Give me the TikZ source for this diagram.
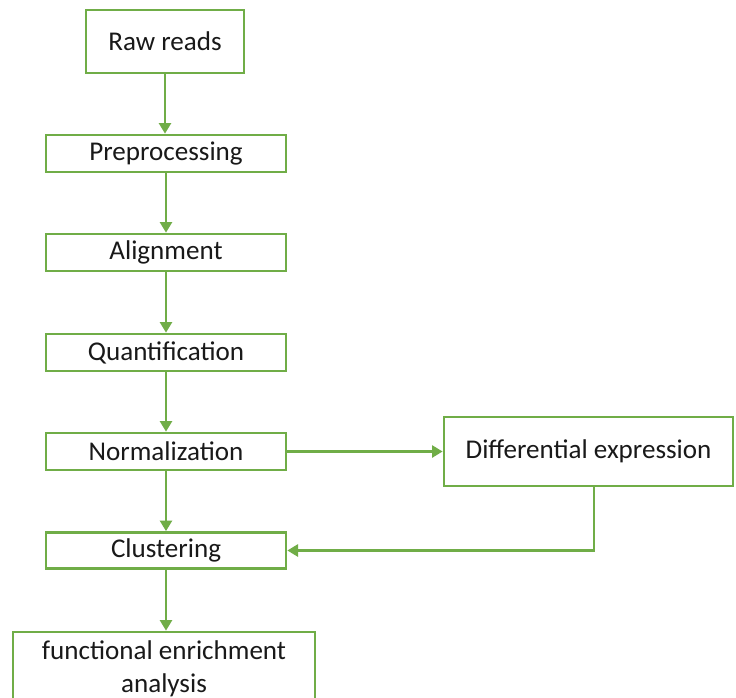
\documentclass[tikz,border=0pt]{standalone}
\usepackage{fontspec}
\setmainfont{Carlito}
\usetikzlibrary{arrows.meta}
\definecolor{flowgreen}{RGB}{112,173,71}
\tikzset{
  stepbox/.style={draw=flowgreen, line width=2pt, fill=white, inner sep=0pt, align=center,
    font=\fontsize{20.3}{24.75}\selectfont, text=black!90},
  flowarrow/.style={draw=flowgreen, line width=2pt, -{Triangle[length=8pt,width=9pt]}}
}

\begin{document}
\begin{tikzpicture}[x=0.75pt,y=-0.75pt]
		%%%%% START %%%%%
		
		\useasboundingbox[fill=white] (0, 0) rectangle (736, 697);
		
		\node[stepbox, minimum width=158*0.75pt, minimum height=63*0.75pt] (raw) at (165, 41.5) {Raw reads};
		\node[stepbox, minimum width=240*0.75pt, minimum height=37*0.75pt] (pre) at (166, 153.5) {Preprocessing};
		\node[stepbox, minimum width=240*0.75pt, minimum height=37*0.75pt] (align) at (166, 252.5) {Alignment};
		\node[stepbox, minimum width=240*0.75pt, minimum height=37*0.75pt] (quant) at (166, 352.5) {Quantification};
		\node[stepbox, minimum width=240*0.75pt, minimum height=37*0.75pt] (norm) at (166, 451.5) {Normalization};
		\node[stepbox, minimum width=240*0.75pt, minimum height=36*0.75pt] (clust) at (166, 550.5) {Clustering};
		\node[stepbox, minimum width=302*0.75pt, minimum height=73*0.75pt] (func) at (164, 668.5) {functional enrichment\\analysis};
		
		\node[stepbox, minimum width=289*0.75pt, minimum height=69*0.75pt] (diff) at (588.5, 451.5) {Differential expression};
		
		\draw[flowarrow] (raw) -- (raw |- pre.north);
		\draw[flowarrow] (pre) -- (align);
		\draw[flowarrow] (align) -- (quant);
		\draw[flowarrow] (quant) -- (norm);
		\draw[flowarrow] (norm) -- (clust);
		\draw[flowarrow] (clust) -- (clust |- func.north);
		
		\draw[flowarrow] (norm) -- (diff);
		\draw[flowarrow] ([xshift=5.5*0.75pt]diff.south) |- (clust.east);
		
		%%%%% END %%%%%
\end{tikzpicture}
\end{document}
